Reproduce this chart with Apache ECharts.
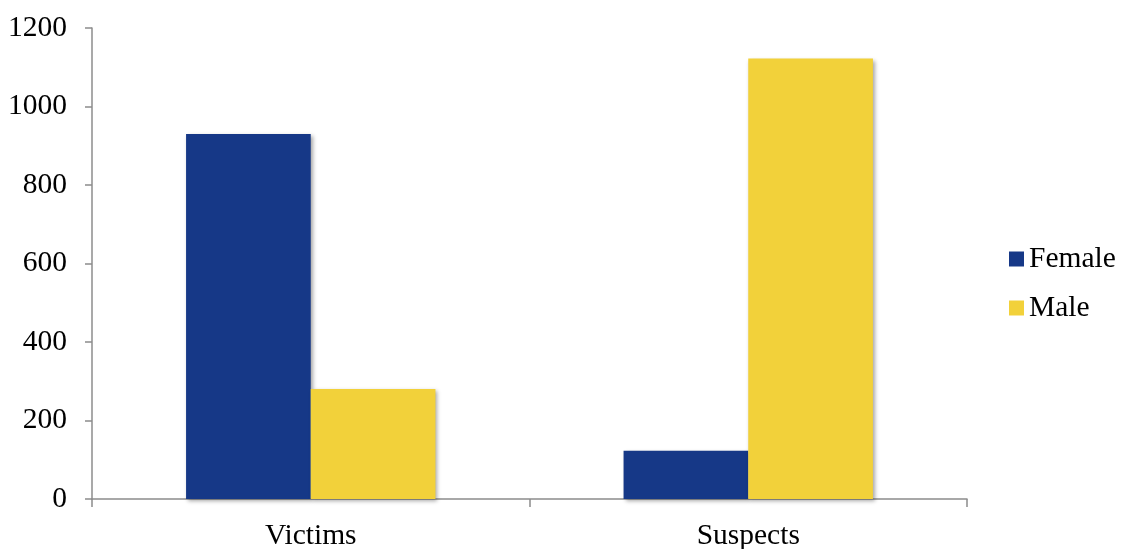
<!DOCTYPE html>
<html>
<head>
<meta charset="utf-8">
<script src="https://cdn.jsdelivr.net/npm/echarts@6/dist/echarts.min.js"></script>
<style>
  html, body { margin: 0; padding: 0; background: #fff; }
  #chart { width: 1123px; height: 549px; }
</style>
</head>
<body>
<div id="chart"></div>
<script>
// Victims and suspects by sex
const categories = ['Victims', 'Suspects'];
const femaleValues = [930, 123];
const maleValues = [280, 1122];
const yTicks = { min: 0, max: 1200, interval: 200 };

const font = '"Liberation Serif", "DejaVu Serif", serif';
const fontSize = 29.5;
const axisGray = '#8c8c8c';
const barShadow = {
  shadowColor: 'rgba(0,0,0,0.35)',
  shadowBlur: 4,
  shadowOffsetX: 2,
  shadowOffsetY: 2
};

const chart = echarts.init(document.getElementById('chart'), null, { renderer: 'canvas' });
chart.setOption({
  backgroundColor: '#ffffff',
  animation: false,
  grid: { left: 92, right: 156, top: 28, bottom: 50, containLabel: false, outerBoundsMode: 'none' },
  legend: {
    orient: 'vertical',
    left: 1004,
    top: 239,
    itemWidth: 15,
    itemHeight: 15,
    itemGap: 19,
    icon: 'rect',
    textStyle: { fontFamily: font, fontSize: fontSize, color: '#000' },
    data: ['Female', 'Male']
  },
  xAxis: {
    type: 'category',
    data: categories,
    axisLine: { lineStyle: { color: axisGray, width: 1.5 } },
    axisTick: { show: true, length: 8, alignWithLabel: false, lineStyle: { color: axisGray, width: 1.5 } },
    axisLabel: { fontFamily: font, fontSize: fontSize, color: '#000', margin: 22 }
  },
  yAxis: {
    type: 'value',
    min: yTicks.min,
    max: yTicks.max,
    interval: yTicks.interval,
    axisLine: { show: true, lineStyle: { color: axisGray, width: 1.5 } },
    axisTick: { show: true, length: 7, lineStyle: { color: axisGray, width: 1.5 } },
    splitLine: { show: false },
    axisLabel: {
      fontFamily: font, fontSize: fontSize, color: '#000', margin: 25,
      formatter: v => String(v)
    }
  },
  series: [
    {
      name: 'Female',
      type: 'bar',
      data: femaleValues,
      barWidth: '28.5%',
      barGap: '0%',
      itemStyle: Object.assign({ color: '#163887' }, barShadow)
    },
    {
      name: 'Male',
      type: 'bar',
      data: maleValues,
      barWidth: '28.5%',
      barGap: '0%',
      itemStyle: Object.assign({ color: '#F2D13A' }, barShadow)
    }
  ]
});
</script>
</body>
</html>
